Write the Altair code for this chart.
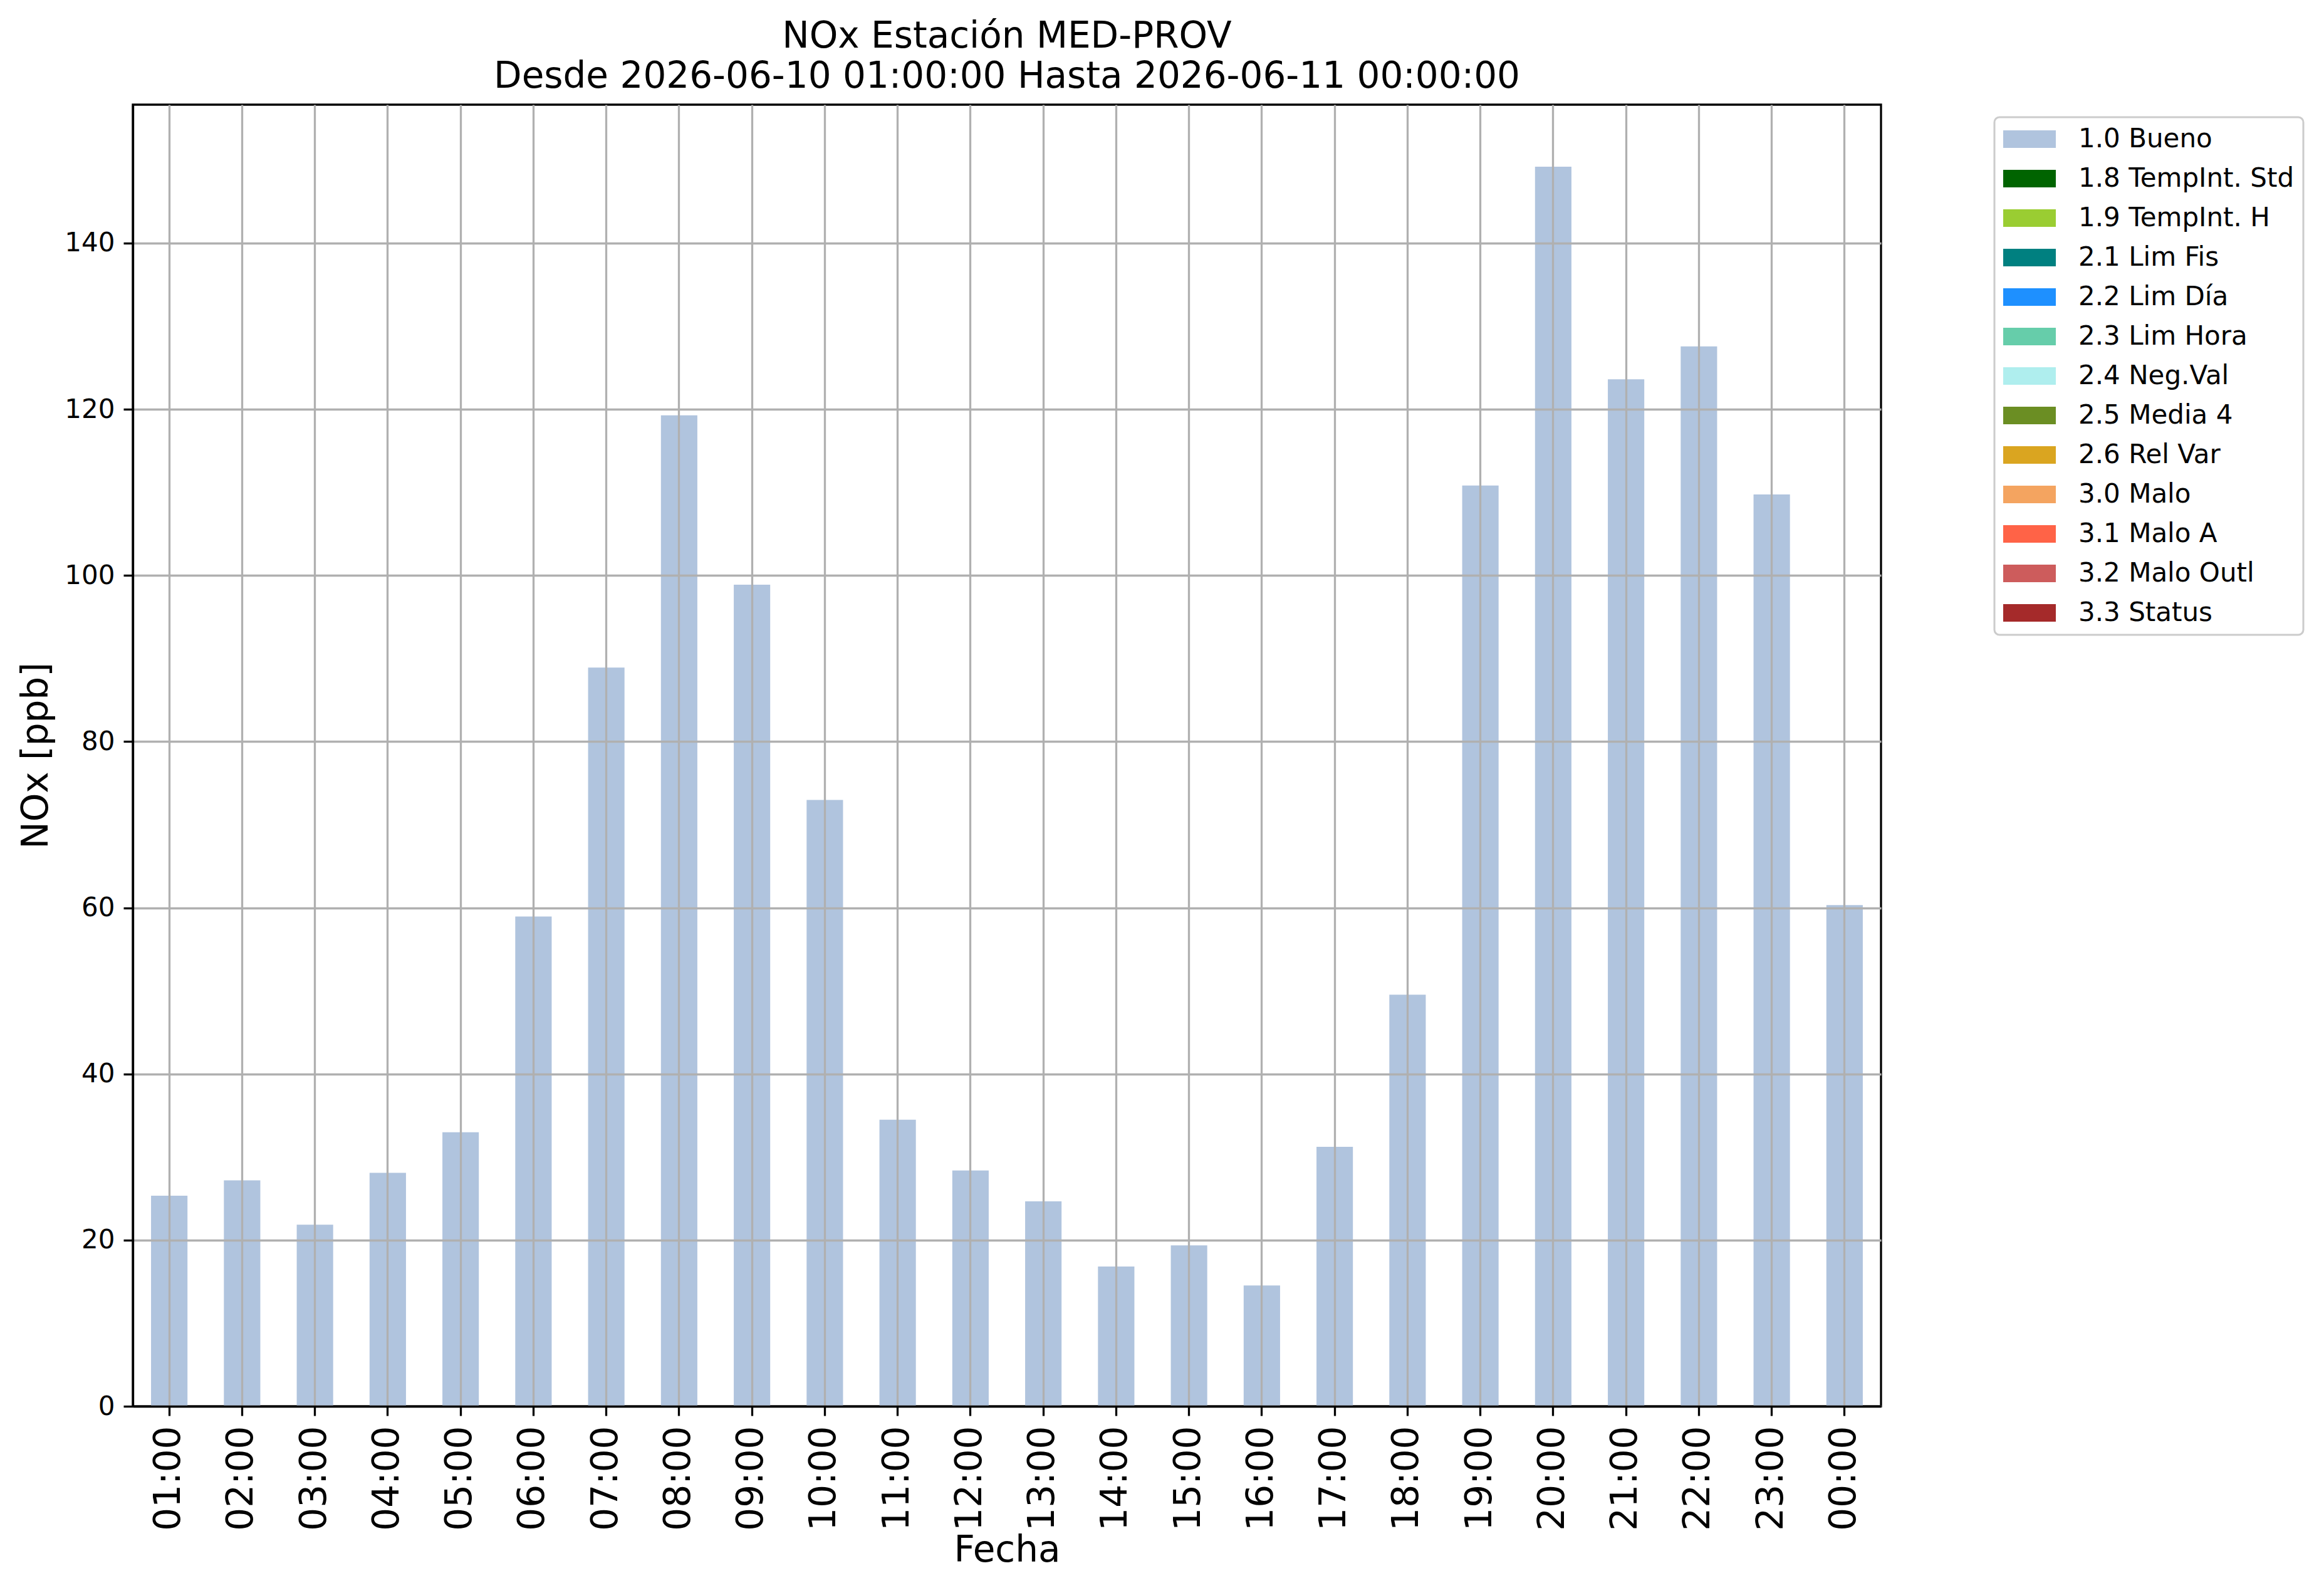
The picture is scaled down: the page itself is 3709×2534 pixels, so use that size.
import altair as alt
import pandas as pd

hours = ["01:00", "02:00", "03:00", "04:00", "05:00", "06:00", "07:00", "08:00",
         "09:00", "10:00", "11:00", "12:00", "13:00", "14:00", "15:00", "16:00",
         "17:00", "18:00", "19:00", "20:00", "21:00", "22:00", "23:00", "00:00"]
nox = [25.35, 27.2, 21.85, 28.1, 32.98, 58.94, 88.9, 119.27,
       98.89, 72.98, 34.49, 28.37, 24.66, 16.82, 19.36, 14.54,
       31.23, 49.53, 110.82, 149.2, 123.6, 127.56, 109.74, 60.32]
flag = ["1.0 Bueno"] * 24

flag_labels = ["1.0 Bueno", "1.8 TempInt. Std", "1.9 TempInt. H", "2.1 Lim Fis",
               "2.2 Lim Día", "2.3 Lim Hora", "2.4 Neg.Val", "2.5 Media 4",
               "2.6 Rel Var", "3.0 Malo", "3.1 Malo A", "3.2 Malo Outl", "3.3 Status"]
flag_colors = ["#b0c4de", "#006400", "#9acd32", "#008080", "#1e90ff", "#66cdaa",
               "#afeeee", "#6b8e23", "#daa520", "#f4a460", "#ff6347", "#cd5c5c",
               "#a52a2a"]
y_ticks = [0, 20, 40, 60, 80, 100, 120, 140]

df = pd.DataFrame({"Fecha": hours, "NOx": nox, "Flag": flag})

FONT = "DejaVu Sans"
ymax = max(nox) * 1.05

bars = alt.Chart(df).mark_bar(opacity=1).encode(
    x=alt.X(
        "Fecha:N",
        sort=hours,
        scale=alt.Scale(paddingInner=0.5, paddingOuter=0.25),
        axis=alt.Axis(
            title="Fecha", titleFont=FONT, titleFontSize=58, titleFontWeight="normal",
            titleColor="black", titlePadding=3,
            labelFont=FONT, labelFontSize=58, labelAngle=270, labelColor="black",
            labelAlign="right", labelBaseline="middle", labelPadding=16,
            tickSize=15, tickWidth=3.3, tickColor="black",
            domain=True, domainColor="black", domainWidth=3.3,
            grid=True, gridColor="#b0b0b0", gridWidth=3.3, zindex=1,
        ),
    ),
    y=alt.Y(
        "NOx:Q",
        scale=alt.Scale(domain=[0, ymax], nice=False, zero=True),
        axis=alt.Axis(
            title="NOx [ppb]", titleFont=FONT, titleFontSize=58, titleFontWeight="normal",
            titleColor="black", titlePadding=15,
            values=y_ticks, format="d",
            labelFont=FONT, labelFontSize=42, labelColor="black", labelPadding=14,
            tickSize=15, tickWidth=3.3, tickColor="black",
            domain=True, domainColor="black", domainWidth=3.3,
            grid=True, gridColor="#b0b0b0", gridWidth=3.3, zindex=1,
        ),
    ),
    color=alt.Color(
        "Flag:N",
        scale=alt.Scale(domain=flag_labels, range=flag_colors),
        legend=alt.Legend(
            title=None, orient="none", legendX=2971, legendY=20,
            labelFont=FONT, labelFontSize=42, labelColor="black", labelLimit=1000,
            labelOffset=78,
            symbolType="M-1,-0.6667H3V0.6667H-1Z", symbolSize=1764,
            symbolStrokeWidth=0, symbolOpacity=1,
            rowPadding=21, padding=14,
            strokeColor="#cccccc", fillColor="white", cornerRadius=8,
        ),
    ),
).properties(
    width=2790,
    height=2077,
    title=alt.TitleParams(
        text=["NOx Estación MED-PROV", "Desde 2026-06-10 01:00:00 Hasta 2026-06-11 00:00:00"],
        font=FONT, fontSize=58, fontWeight="normal", color="black",
        lineHeight=64, anchor="middle", offset=15,
    ),
    autosize=alt.AutoSizeParams(type="none"),
    padding={"left": 204, "top": 159, "right": 690, "bottom": 280},
).configure_view(
    stroke="black", strokeWidth=3.3
).configure_legend(
    strokeWidth=3
)

chart = bars
chart.save("out.html", embed_options={"renderer": "svg", "actions": False})
